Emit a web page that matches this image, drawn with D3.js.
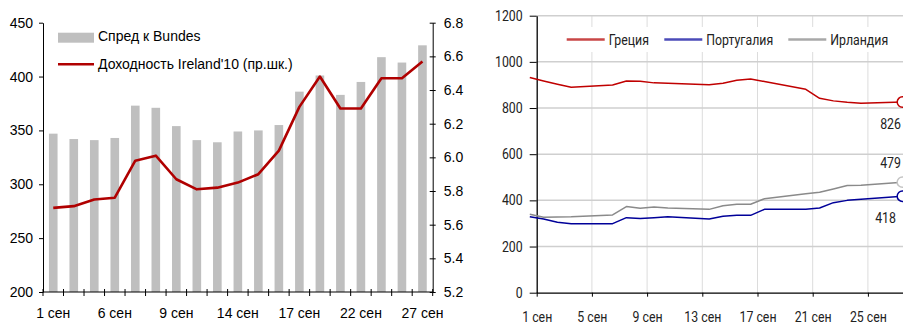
<!DOCTYPE html>
<html>
<head>
<meta charset="utf-8">
<script src="https://cdnjs.cloudflare.com/ajax/libs/d3/7.8.5/d3.min.js"></script>
<style>
  html, body { margin: 0; padding: 0; background: #fff; }
  svg { display: block; }
  .lf text { font-family: "Liberation Sans", Arial, sans-serif; font-size: 14px; fill: #000; }
  .rt text { font-family: Roboto, "Liberation Sans", sans-serif; font-size: 14px; fill: #222; }
</style>
</head>
<body>
<svg id="chart" width="903" height="325"></svg>
<script>
// ---- Left panel: spread vs Bunds (bars) and Irish 10y yield (line, right scale)
const tradeDays = [1, 2, 3, 6, 7, 8, 9, 10, 13, 14, 15, 16, 17, 20, 21, 22, 23, 24, 27];
const spreadBund = [347, 342, 341, 343, 373, 371, 354, 341, 339, 349, 350, 355, 386, 401, 383, 395, 418, 413, 429];
const yieldIreland = [5.70, 5.71, 5.75, 5.76, 5.98, 6.01, 5.87, 5.81, 5.82, 5.85, 5.90, 6.04, 6.30, 6.48, 6.29, 6.29, 6.47, 6.47, 6.57];
const spreadTicks = [200, 250, 300, 350, 400, 450];
const yieldTicks = [5.2, 5.4, 5.6, 5.8, 6.0, 6.2, 6.4, 6.6, 6.8];

// ---- Right panel: spreads of Greece, Portugal, Ireland
const spreadDates = ["2010-08-31", "2010-09-01", "2010-09-02", "2010-09-03", "2010-09-06", "2010-09-07",
  "2010-09-08", "2010-09-09", "2010-09-10", "2010-09-13", "2010-09-14", "2010-09-15", "2010-09-16",
  "2010-09-17", "2010-09-20", "2010-09-21", "2010-09-22", "2010-09-23", "2010-09-24", "2010-09-27"];
const greece   = [932, 917, 903, 890, 900, 917, 916, 909, 907, 901, 907, 920, 926, 915, 881, 842, 831, 825, 821, 826];
const portugal = [329, 319, 305, 299, 299, 325, 321, 325, 329, 319, 331, 335, 335, 361, 361, 367, 390, 400, 405, 418];
const ireland  = [340, 327, 328, 329, 337, 373, 366, 371, 367, 361, 377, 383, 383, 407, 429, 435, 449, 464, 465, 479];
const countryNames = ["Греция", "Португалия", "Ирландия"];
const spreadTicksR = [0, 200, 400, 600, 800, 1000, 1200];
const dateTickDays = [1, 5, 9, 13, 17, 21, 25];

const svg = d3.select("#chart");

/* ================= LEFT PANEL ================= */
const L = svg.append("g").attr("class", "lf");
const lx0 = 43, lx1 = 432.7, ly0 = 292, ly1 = 22.7;

const xBand = d3.scaleBand().domain(d3.range(tradeDays.length)).range([lx0, lx1])
  .paddingInner(0.58).paddingOuter(0.29);
const yS = d3.scaleLinear().domain([200, 450]).range([ly0, ly1]);
const yY = d3.scaleLinear().domain([5.2, 6.8]).range([ly0, ly1]);

L.append("g").selectAll("rect").data(spreadBund).join("rect")
  .attr("x", (d, i) => xBand(i))
  .attr("width", xBand.bandwidth())
  .attr("y", d => yS(d))
  .attr("height", d => yS(200) - yS(d))
  .attr("fill", "#bfbfbf");

const yieldLine = d3.line()
  .x((d, i) => xBand(i) + xBand.bandwidth() / 2)
  .y(d => yY(d));
L.append("path").datum(yieldIreland)
  .attr("d", yieldLine)
  .attr("fill", "none").attr("stroke", "#b00000").attr("stroke-width", 2.6)
  .attr("stroke-linejoin", "round");

// left axis
const axL = L.append("g").attr("transform", `translate(${lx0},0)`)
  .call(d3.axisLeft(yS).tickValues(spreadTicks).tickSizeInner(4).tickSizeOuter(0).tickPadding(6));
axL.select(".domain").attr("stroke", "#000");
axL.selectAll("text").style("font-size", "14px").attr("fill", "#000");

// right axis (ticks cross the line)
const axR = L.append("g").attr("transform", `translate(${lx1},0)`)
  .call(d3.axisRight(yY).tickValues(yieldTicks).tickFormat(d3.format(".1f")).tickSizeInner(3).tickSizeOuter(0).tickPadding(8));
axR.selectAll(".tick line").attr("x1", -3);
axR.select(".domain").attr("stroke", "#000");
axR.selectAll("text").style("font-size", "14px").attr("fill", "#000");

// bottom axis: tick marks at category boundaries, labels every third day
const bx = L.append("g");
bx.append("line").attr("x1", lx0).attr("x2", lx1).attr("y1", ly0).attr("y2", ly0).attr("stroke", "#000");
const step = xBand.step();
bx.selectAll("line.tk").data(d3.range(tradeDays.length + 1)).join("line").attr("class", "tk")
  .attr("x1", i => lx0 + i * step).attr("x2", i => lx0 + i * step)
  .attr("y1", ly0 - 3).attr("y2", ly0 + 4).attr("stroke", "#000");
bx.selectAll("text").data(tradeDays.map((d, i) => ({ d, i })).filter(o => o.i % 3 === 0)).join("text")
  .attr("x", o => xBand(o.i) + xBand.bandwidth() / 2)
  .attr("y", 318)
  .attr("text-anchor", "middle")
  .text(o => `${o.d} сен`);

// legend
const lg = L.append("g");
lg.append("rect").attr("x", 58).attr("y", 32.7).attr("width", 36).attr("height", 10).attr("fill", "#bfbfbf");
lg.append("text").attr("x", 98).attr("y", 41).text("Спред к Bundes");
lg.append("line").attr("x1", 58).attr("x2", 94).attr("y1", 64.3).attr("y2", 64.3)
  .attr("stroke", "#b00000").attr("stroke-width", 2.6);
lg.append("text").attr("x", 98).attr("y", 69).text("Доходность Ireland'10 (пр.шк.)");

/* ================= RIGHT PANEL ================= */
const R = svg.append("g").attr("class", "rt");
const rx0 = 536.7, ry0 = 292.7, ry1 = 15.7;
const parse = d3.timeParse("%Y-%m-%d");
const day = n => new Date(2010, 8, n);
const xT = d3.scaleTime().domain([day(1), day(28)]).range([rx0, rx0 + 27 * 13.8]);
const yR = d3.scaleLinear().domain([0, 1200]).range([ry0, ry1]);
// each quote is placed at midday of its date
const pts = spreadDates.map(s => d3.timeHour.offset(parse(s), 12));

// vertical grid
R.append("g").selectAll("line").data(dateTickDays.slice(1)).join("line")
  .attr("x1", d => xT(day(d))).attr("x2", d => xT(day(d)))
  .attr("y1", ry1).attr("y2", ry0).attr("stroke", "#dcdcdc").attr("stroke-width", 1);
// horizontal grid
R.append("g").selectAll("line").data(spreadTicksR.slice(1)).join("line")
  .attr("x1", rx0).attr("x2", 903)
  .attr("y1", d => yR(d)).attr("y2", d => yR(d)).attr("stroke", "#cfcfcf").attr("stroke-width", 1.5);

// legend with white backing
R.append("rect").attr("x", 558).attr("y", 27).attr("width", 338).attr("height", 25).attr("fill", "#fff");
const legendCols = ["#c84646", "#4b4bb8", "#a8a8a8"];
const legX = [566.7, 664.3, 788.3];
countryNames.forEach((name, i) => {
  R.append("line").attr("x1", legX[i]).attr("x2", legX[i] + 38).attr("y1", 39.5).attr("y2", 39.5)
    .attr("stroke", legendCols[i]).attr("stroke-width", 2.5);
  R.append("text").attr("x", legX[i] + 42).attr("y", 44.5).attr("fill", "#111").text(name);
});

// axes
const ayR = R.append("g").attr("transform", `translate(${rx0},0)`)
  .call(d3.axisLeft(yR).tickValues(spreadTicksR).tickFormat(d3.format("d"))
    .tickSizeInner(7).tickSizeOuter(0).tickPadding(7));
ayR.select(".domain").attr("stroke", "#000").attr("stroke-width", 1.3);
ayR.selectAll("text").style("font-size", "14px").attr("fill", "#222").style("font-family", null);

const axB = R.append("g").attr("transform", `translate(0,${ry0})`)
  .call(d3.axisBottom(xT).tickValues(dateTickDays.map(day)).tickFormat(d => `${d.getDate()} сен`)
    .tickSizeInner(4).tickSizeOuter(0).tickPadding(15));
axB.select(".domain").attr("stroke", "#000").attr("stroke-width", 1.3).attr("d", `M${rx0},0.5H903`);
axB.selectAll("text").style("font-size", "14px").attr("fill", "#222").style("font-family", null);

// series; end values are labelled next to a ring marker, kept inside the panel edge
const series = [
  { vals: portugal, col: "#000099", ring: "#000099", dx: -6, dy: 27 },
  { vals: greece, col: "#c00000", ring: "#c00000", dx: -1, dy: 27 },
  { vals: ireland, col: "#8a8a8a", ring: "#c4c4c4", dx: -1, dy: -14 }
];
const lineR = d3.line().x((d, i) => xT(pts[i])).y(d => yR(d));
series.forEach(s => {
  R.append("path").datum(s.vals).attr("d", lineR)
    .attr("fill", "none").attr("stroke", s.col).attr("stroke-width", 1.5).attr("stroke-linejoin", "round");
});
series.forEach(s => {
  const n = s.vals.length - 1;
  const cx = xT(pts[n]), cy = yR(s.vals[n]);
  R.append("circle").attr("cx", cx).attr("cy", cy).attr("r", 5.2)
    .attr("fill", "#fff").attr("stroke", s.ring).attr("stroke-width", 1.5);
  R.append("text").attr("x", Math.min(cx, 902) + s.dx).attr("y", cy + s.dy)
    .attr("text-anchor", "end").attr("fill", "#333").text(s.vals[n]);
});

// the right panel uses a condensed face: narrow every label horizontally
R.selectAll("text").each(function () {
  const w = this.getComputedTextLength();
  d3.select(this).attr("textLength", (w * 0.88).toFixed(1)).attr("lengthAdjust", "spacingAndGlyphs");
});
</script>
</body>
</html>
